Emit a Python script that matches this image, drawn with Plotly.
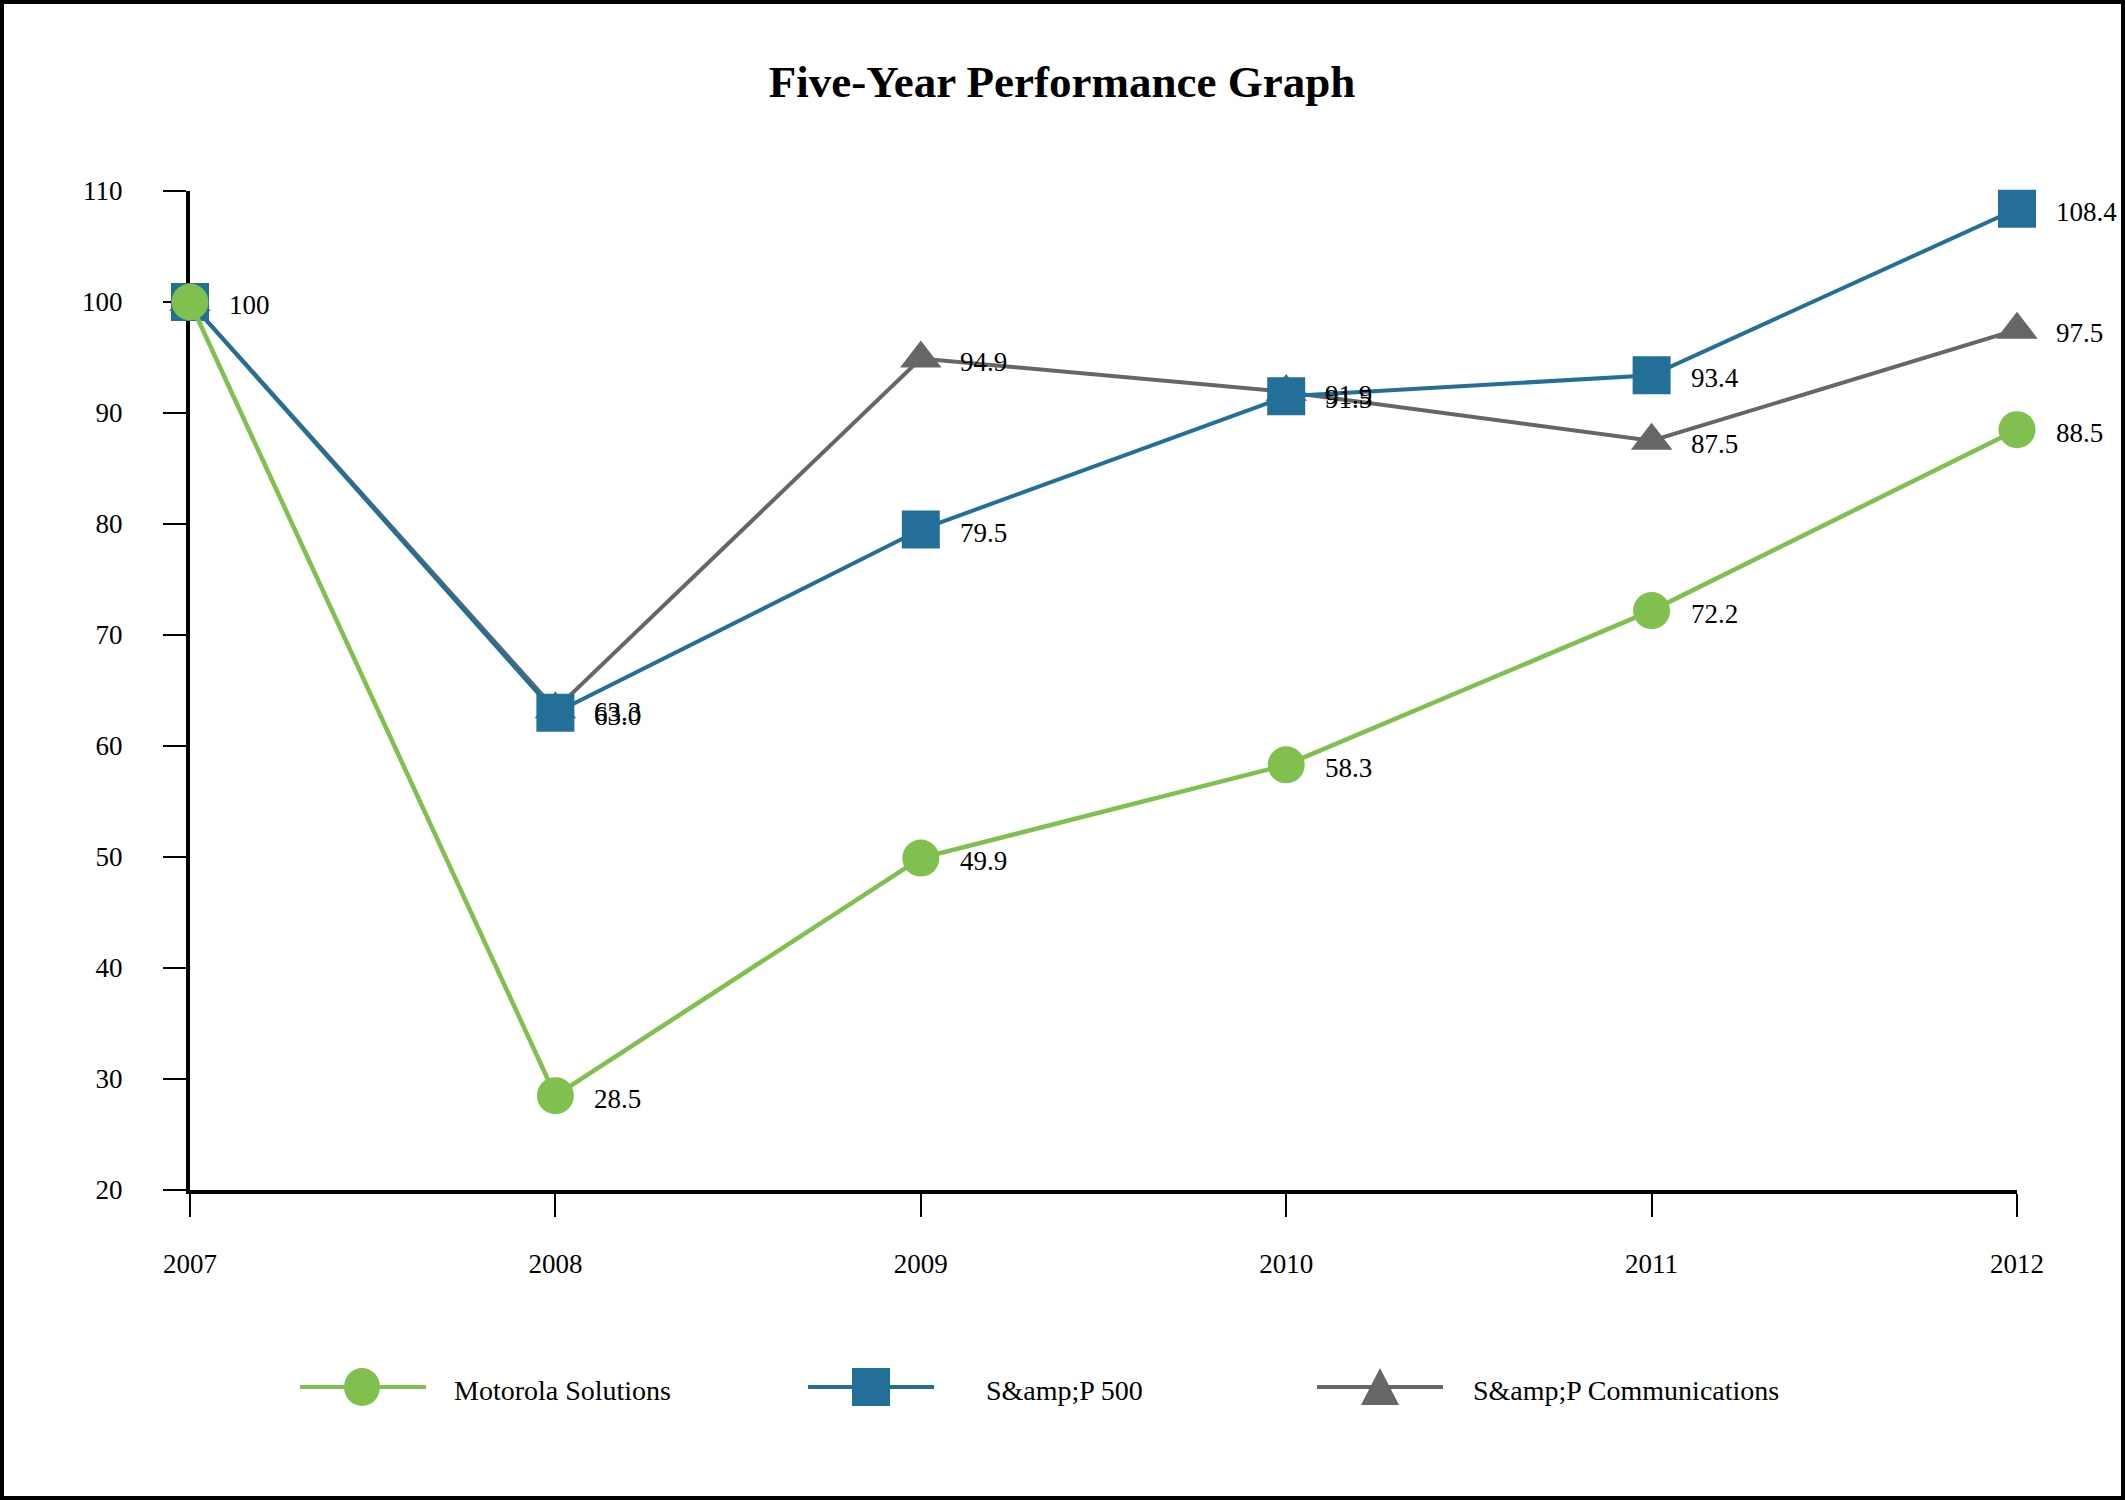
import plotly.graph_objects as go

# ---- data ----
years = [2007, 2008, 2009, 2010, 2011, 2012]
motorola = [100, 28.5, 49.9, 58.3, 72.2, 88.5]
sp500 = [100, 63.0, 79.5, 91.5, 93.4, 108.4]
sp_comm = [100, 63.3, 94.9, 91.9, 87.5, 97.5]
y_ticks = [20, 30, 40, 50, 60, 70, 80, 90, 100, 110]

names = ["Motorola Solutions", "S&amp;amp;P 500", "S&amp;amp;P Communications"]
colors = ["#80C04F", "#246F98", "#666666"]
symbols = ["circle", "square", "triangle-up"]

FONT = "Liberation Serif, Times New Roman, serif"
W, H = 2125, 1500
L, R, T, B = 190, 108, 191, 310
PW, PH = W - L - R, H - T - B


def px(xp):
    return (xp - L) / PW


def py(yp):
    return (H - B - yp) / PH


def fmt(v):
    return "100" if v == 100 else f"{v:.1f}"


fig = go.Figure()

series = [motorola, sp500, sp_comm]
widths = [4.5, 4, 4]
msizes = [37, 38, 36]
# draw order: gray, blue, green (green on top)
for i in [2, 1, 0]:
    fig.add_trace(go.Scatter(
        x=years, y=series[i], mode="lines+markers",
        line=dict(color=colors[i], width=widths[i]),
        marker=dict(symbol=symbols[i], size=msizes[i], color=colors[i]),
        cliponaxis=False, showlegend=False, hoverinfo="skip",
    ))

annotations = []
seen = set()
for i in [2, 1, 0]:
    for x, v in zip(years, series[i]):
        key = (x, fmt(v))
        if key in seen:
            continue
        seen.add(key)
        annotations.append(dict(
            x=x, y=v, xref="x", yref="y", text=fmt(v), showarrow=False,
            xanchor="left", yanchor="middle", xshift=37, yshift=-3,
            font=dict(family=FONT, size=27, color="black"),
        ))

# custom legend
shapes = []
leg_y = 1387
leg_items = [(300, 426, 362, 452), (808, 934, 871, 984), (1317, 1443, 1380, 1471)]
for i, (x0, x1, xm, xt) in enumerate(leg_items):
    shapes.append(dict(type="line", xref="paper", yref="paper",
                       x0=px(x0), x1=px(x1), y0=py(leg_y), y1=py(leg_y),
                       line=dict(color=colors[i], width=4)))
    common = dict(xref="paper", yref="paper", xsizemode="pixel", ysizemode="pixel",
                  xanchor=px(xm), yanchor=py(leg_y), fillcolor=colors[i],
                  line=dict(width=0))
    if symbols[i] == "circle":
        shapes.append(dict(type="circle", x0=-18, x1=18, y0=-19, y1=19, **common))
    elif symbols[i] == "square":
        shapes.append(dict(type="rect", x0=-19, x1=19, y0=-19, y1=19, **common))
    else:
        shapes.append(dict(type="path", path="M -19 -18 L 19 -18 L 0 19 Z", **common))
    annotations.append(dict(
        x=px(xt), y=py(leg_y + 3), xref="paper", yref="paper", text=names[i],
        showarrow=False, xanchor="left", yanchor="middle",
        font=dict(family=FONT, size=28, color="black"),
    ))

# outer frame
shapes.append(dict(type="rect", xref="paper", yref="paper",
                   x0=px(2), x1=px(W - 2), y0=py(H - 2), y1=py(2),
                   line=dict(color="black", width=4), fillcolor="rgba(0,0,0,0)",
                   layer="above"))

fig.update_layout(
    width=W, height=H,
    margin=dict(l=L, r=R, t=T, b=B),
    paper_bgcolor="white", plot_bgcolor="white",
    title=dict(text="<b>Five-Year Performance Graph</b>", x=1062 / W, xref="container",
               xanchor="center", y=1 - 81 / H, yref="container", yanchor="middle",
               font=dict(family=FONT, size=45, color="black")),
    xaxis=dict(range=[2007, 2012], tickvals=years, ticktext=[str(y) for y in years],
               showgrid=False, zeroline=False, showline=True, linecolor="black",
               linewidth=4, ticks="outside", ticklen=23, tickwidth=1.5,
               tickcolor="black", ticklabelstandoff=24, layer="below traces",
               tickfont=dict(family=FONT, size=27, color="black")),
    yaxis=dict(range=[20, 110], tickvals=y_ticks, showgrid=False, zeroline=False,
               showline=True, linecolor="black", linewidth=4, ticks="outside",
               ticklen=23, tickwidth=1.5, tickcolor="black", ticklabelstandoff=35,
               layer="below traces",
               tickfont=dict(family=FONT, size=27, color="black")),
    annotations=annotations,
    shapes=shapes,
    showlegend=False,
)

fig.write_html("out.html", config={"displayModeBar": False},
               post_script="document.body.style.margin='0';")
